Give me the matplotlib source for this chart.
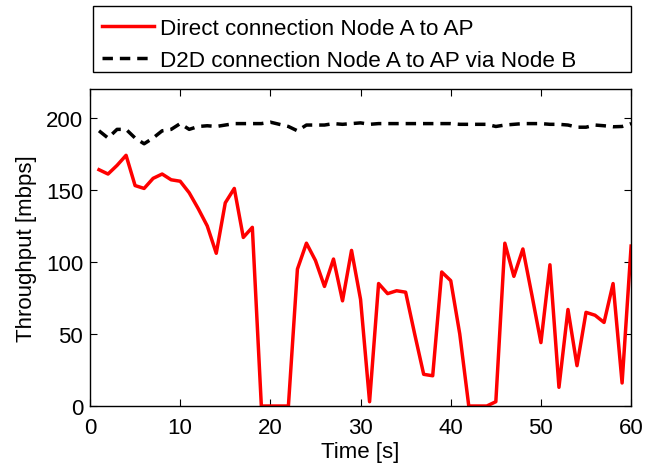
import matplotlib
matplotlib.use("Agg")
import matplotlib.pyplot as plt
from matplotlib.patches import Rectangle

plt.rcParams['font.family'] = ['Liberation Sans', 'DejaVu Sans']

time_s = list(range(1, 61))
direct = [164, 161, 167, 174, 153, 151, 158, 161, 157, 156,
          148, 137, 125, 106, 141, 151, 117, 124, 0, 0,
          0, 0, 95, 113, 101, 83, 102, 73, 108, 74,
          3, 85, 78, 80, 79, 50, 22, 21, 93, 87,
          50, 0, 0, 0, 3, 113, 90, 109, 77, 44,
          98, 13, 67, 28, 65, 63, 58, 85, 16, 111]
d2d = [191, 186, 192, 192, 186, 182, 186, 191, 192, 196,
       192, 194, 194.5, 194, 195, 196, 196, 196, 196, 197,
       195.5, 194, 191, 195, 195, 195, 196, 195.5, 196, 196.5,
       195.5, 196, 196, 196, 196, 196, 196, 196, 196, 196,
       195.5, 195.5, 195.5, 195.5, 194, 195, 195.5, 196, 196, 196,
       195.5, 195.5, 195, 193.5, 193.5, 195, 194.5, 193.8, 194, 196]

labels = ['Direct connection Node A to AP', 'D2D connection Node A to AP via Node B']

W, H = 654, 464
fig = plt.figure(figsize=(W / 100, H / 100), dpi=100)
ax = fig.add_axes([0.1376, 0.1228, 0.8274, 0.6832])
l1, = ax.plot(time_s, direct, color='red', lw=2.5, label=labels[0])
l2, = ax.plot(time_s, d2d, color='black', lw=2.5, ls=(0, (3, 2)), label=labels[1])
ax.set_xlim(0, 60)
ax.set_ylim(0, 220)
ax.set_xticks([0, 10, 20, 30, 40, 50, 60])
ax.set_yticks([0, 50, 100, 150, 200])
ax.tick_params(direction='in', labelsize=16, length=5, top=True, right=True)
ax.tick_params(axis='x', pad=8)
ax.tick_params(axis='y', pad=5)
ax.set_xlabel('Time [s]', fontsize=16, labelpad=2)
ax.set_ylabel('Throughput [mbps]', fontsize=16, labelpad=6)
for s in ax.spines.values():
    s.set_linewidth(1.0)

leg = fig.legend(handles=[l1, l2], loc='center left',
                 bbox_to_anchor=(93 / W, 1 - 45.5 / H),
                 fontsize=16.2, frameon=False,
                 handlelength=2.3, handletextpad=0.3, borderaxespad=0,
                 borderpad=0.4, labelspacing=0.5)
fig.patches.append(Rectangle((93 / W, 1 - 73 / H), 538 / W, 66 / H,
                             transform=fig.transFigure, fill=False,
                             lw=1.0, ec='black'))
fig.savefig('out.png', dpi=100)
